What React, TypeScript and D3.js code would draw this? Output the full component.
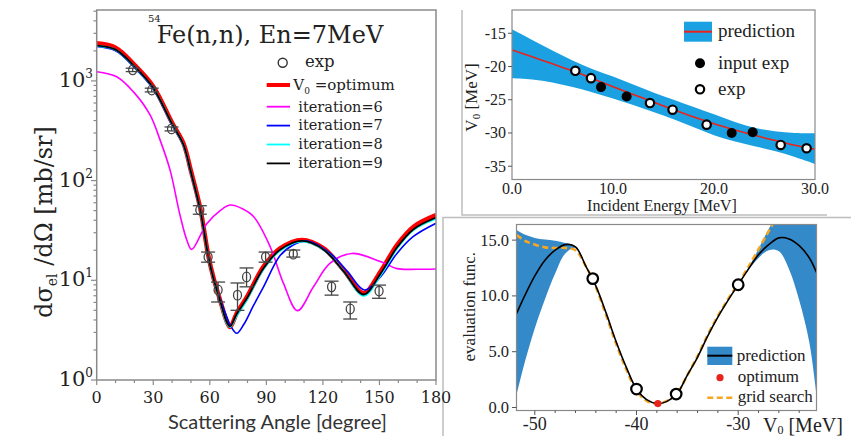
import React from 'react';
import * as d3 from 'd3';

// ---------------- Left panel: 54Fe(n,n) angular distribution ----------------
const xTicksL = [0, 30, 60, 90, 120, 150, 180];
const yDecadesL = [0, 1, 2, 3];

const redAngle = [0, 10, 20, 30, 40, 46, 50, 55, 59.3, 62, 65.5, 69, 70.8, 74.3, 79.7, 88.5, 97.3, 108.9, 120.4, 131, 141.6, 150.5, 159.3, 168.1, 180];
const redValue = [2380, 2150, 1450, 880, 380, 237, 125, 52, 17.3, 10.5, 6.3, 3.85, 3.4, 4.67, 6.8, 13.7, 20.9, 25.4, 20.9, 12.7, 7.4, 12.2, 22.6, 34.5, 45];
const blackValue = [2260, 2060, 1400, 850, 370, 230, 121, 50, 17, 10.3, 6.2, 3.8, 3.45, 4.6, 6.6, 13.2, 20.2, 24.8, 20.3, 12.3, 7.2, 11.6, 21.3, 32.5, 42.5];
const cyanValue = [2250, 2050, 1390, 845, 368, 228, 120, 49.5, 16.8, 10.2, 6.1, 3.7, 3.4, 4.4, 6.4, 12.9, 19.8, 24.5, 20.2, 12.3, 7.0, 11.2, 20.8, 32, 41.5];

const blueAngle = [0, 10, 20, 30, 40, 46, 50, 55, 59.3, 62, 65.5, 69, 71, 74.3, 78, 83, 88.5, 97.3, 104, 112, 123.9, 133, 142, 150.5, 159.3, 168, 180];
const blueValue = [2210, 2000, 1360, 830, 360, 225, 118, 49, 16.8, 10.4, 6.5, 4.3, 3.5, 2.94, 3.6, 5.5, 8.6, 17.7, 22.5, 24.8, 18.6, 12.3, 8.0, 10.8, 18.6, 27.5, 37.3];

const magAngle = [0, 10.6, 19.4, 28.3, 33.6, 38.9, 44.2, 47.8, 50.4, 58.4, 65.5, 70.8, 77, 83.2, 92, 99.1, 106.5, 115, 123.7, 135.4, 150.5, 159.3, 170, 180];
const magValue = [1237, 1100, 780, 456, 256, 128, 45, 25.4, 20.4, 37, 50, 56.9, 52.5, 43.6, 21.8, 9.3, 4.96, 8.6, 14.8, 18.6, 15.4, 13.1, 12.9, 13.0];

const expAngle = [19.1, 29.2, 39.7, 54.7, 59.1, 64.4, 74.7, 79.5, 89.6, 104.3, 124.6, 134.5, 149.8];
const expValue = [1290, 810, 330, 50.7, 17.1, 8.0, 7.1, 10.8, 17.1, 18.3, 8.6, 5.16, 7.8];
const expLow = [1240, 775, 315, 46, 15.2, 6.06, 5.0, 8.6, 15.2, 17.1, 7.1, 4.09, 6.6];
const expHigh = [1340, 845, 345, 56, 19.2, 9.6, 9.4, 13.3, 19.2, 20.1, 9.8, 6.06, 8.95];

const legendL = [
  { label: 'iteration=6', color: '#ff00ff' },
  { label: 'iteration=7', color: '#0000ff' },
  { label: 'iteration=8', color: '#00ffff' },
  { label: 'iteration=9', color: '#000000' },
];

// ---------------- Top-right panel: V0 vs incident energy ----------------
const xTicksT = [0, 10, 20, 30];
const yTicksT = [-15, -20, -25, -30, -35];
const bandE = [0, 2, 4, 6, 8, 10, 12, 14, 16, 18, 20, 22, 24, 26, 28, 30];
const bandMean = [-17.5, -18.55, -19.6, -20.65, -21.85, -23.05, -24.2, -25.35, -26.5, -27.6, -28.6, -29.5, -30.35, -31.1, -31.85, -32.45];
const bandUpper = [-14.4, -16.0, -17.6, -19.1, -20.4, -21.5, -22.7, -23.9, -25.0, -26.1, -27.2, -28.3, -29.2, -29.75, -30.0, -30.05];
const bandLower = [-21.75, -21.95, -22.4, -23.1, -23.9, -24.8, -25.8, -26.85, -27.95, -29.15, -30.35, -31.25, -32.0, -32.7, -33.6, -34.65];
const openE = [6.27, 7.82, 13.66, 15.9, 19.27, 26.6, 29.17];
const openV = [-20.65, -21.75, -25.5, -26.5, -28.75, -31.8, -32.3];
const filledE = [8.81, 11.35, 21.75, 23.83];
const filledV = [-23.1, -24.5, -30.0, -29.9];

// ---------------- Bottom-right panel: evaluation function ----------------
const xTicksB = [-50, -40, -30];
const yTicksB = [0, 5, 10, 15];
const evalV0 = [-51.8, -51, -50, -49, -48, -47, -46, -45, -44, -43, -42, -41, -40, -39, -38, -37, -36, -35, -34, -33, -32, -31, -30, -29, -28, -27, -26, -25, -24, -23, -22.3];
const evalMean = [8.4, 10.0, 11.8, 13.2, 14.1, 14.6, 14.4, 12.7, 10.9, 8.5, 5.9, 3.6, 1.65, 0.7, 0.35, 0.55, 1.25, 2.9, 4.5, 6.4, 8.1, 9.6, 11.0, 12.4, 13.7, 14.6, 15.2, 15.1, 14.5, 13.4, 12.1];
const evalUpper = [15.9, 15.5, 15.2, 15.05, 14.95, 14.75, 14.45, 12.75, 10.9, 8.5, 5.9, 3.6, 1.65, 0.7, 0.35, 0.55, 1.25, 2.9, 4.5, 6.4, 8.1, 9.6, 11.0, 12.5, 14.2, 16.0, 17.5, 18.5, 19.0, 19.5, 20.0];
const evalLower = [1.1, 4.0, 7.1, 9.7, 12.0, 13.8, 14.3, 12.65, 10.9, 8.5, 5.9, 3.6, 1.65, 0.7, 0.35, 0.55, 1.25, 2.9, 4.5, 6.4, 8.1, 9.6, 11.0, 12.3, 13.4, 14.1, 14.0, 12.4, 9.6, 5.8, 1.1];
const gridV0 = [-51.8, -51, -50, -49, -48, -47, -46, -45, -44, -43, -42, -41, -40, -39, -38, -37, -36, -35, -34, -33, -32, -31, -30, -29, -28, -27, -26];
const gridValue = [15.45, 14.95, 14.6, 14.35, 14.3, 14.3, 14.1, 12.7, 10.8, 8.3, 5.7, 3.4, 1.5, 0.6, 0.35, 0.6, 1.3, 2.9, 4.6, 6.5, 8.2, 9.7, 11.1, 12.6, 14.2, 15.8, 17.4];
const sampledV0 = [-44.3, -40.0, -36.1, -30.0];
const sampledValue = [11.55, 1.65, 1.2, 11.0];
const optimumV0 = [-37.9];
const optimumValue = [0.35];

const zip = (a: number[], b: number[]) => a.map((v, i) => [v, b[i]] as [number, number]);

const SERIF = { fontFamily: "'DejaVu Serif', 'Liberation Serif', serif" };
const TIMES = { fontFamily: "'Liberation Serif', 'Times New Roman', serif" };
const SANS = { fontFamily: "Lato, 'Open Sans', sans-serif" };

export default function App() {
  const xL = d3.scaleLinear().domain([0, 180]).range([96.7, 436]);
  const yL = d3.scaleLog().domain([1, 5140]).range([380, 10]);
  const xT = d3.scaleLinear().domain([0, 30]).range([512, 815]);
  const yT = d3.scaleLinear().domain([-37, -11.5]).range([179.5, 10]);
  const xB = d3.scaleLinear().domain([-51.8, -22.3]).range([516.5, 816.5]);
  const yB = d3.scaleLinear().domain([-0.27, 16.4]).range([410.5, 224.5]);

  const lineL = d3.line<[number, number]>().x(d => xL(d[0])).y(d => yL(d[1])).curve(d3.curveCatmullRom.alpha(0.5));
  const lineT = d3.line<[number, number]>().x(d => xT(d[0])).y(d => yT(d[1])).curve(d3.curveCatmullRom.alpha(0.5));
  const areaT = d3.area<number>().x((_, i) => xT(bandE[i])).y0((_, i) => yT(bandLower[i])).y1((_, i) => yT(bandUpper[i])).curve(d3.curveCatmullRom.alpha(0.5));
  const lineB = d3.line<[number, number]>().x(d => xB(d[0])).y(d => yB(d[1])).curve(d3.curveCatmullRom.alpha(0.5));
  const areaB = d3.area<number>().x((_, i) => xB(evalV0[i])).y0((_, i) => yB(evalLower[i])).y1((_, i) => yB(evalUpper[i])).curve(d3.curveCatmullRom.alpha(0.5));

  const frameL = '#8a8a8a';
  const minorL: number[] = [];
  for (let d = 0; d < 4; d++) for (let m = 2; m <= 9; m++) { const v = m * Math.pow(10, d); if (v < 5140) minorL.push(v); }
  const xMinorL = d3.range(0, 181, 10);
  const xMinorB = d3.range(-50, -22, 2);

  return (
    <svg width={851} height={436} style={{ position: 'absolute', left: 0, top: 0, background: '#fff' }}>
      <defs>
        <clipPath id="clipL"><rect x={96.7} y={10} width={339.3} height={370} /></clipPath>
        <clipPath id="clipT"><rect x={512} y={10} width={303} height={169.5} /></clipPath>
        <clipPath id="clipB"><rect x={516.5} y={224.5} width={300} height={186} /></clipPath>
      </defs>
      <rect x={0} y={0} width={851} height={436} fill="#fff" />

      <g stroke="#bdbdbd" strokeWidth={1.5} fill="none">
        <polyline points="462,10 462,215 827,215" />
        <polyline points="443,436 443,217.5 851,217.5" />
      </g>

      {/* ================= LEFT PANEL ================= */}
      <g>
        <g clipPath="url(#clipL)" fill="none">
          <path d={lineL(zip(redAngle, redValue)) || ''} stroke="#ff0000" strokeWidth={4.5} />
          <path d={lineL(zip(magAngle, magValue)) || ''} stroke="#ff00ff" strokeWidth={1.6} />
          <path d={lineL(zip(blueAngle, blueValue)) || ''} stroke="#0000ff" strokeWidth={1.6} />
          <path d={lineL(zip(redAngle, cyanValue)) || ''} stroke="#00ffff" strokeWidth={2} />
          <path d={lineL(zip(redAngle, blackValue)) || ''} stroke="#000000" strokeWidth={1.8} />
        </g>
        <g stroke="#444" fill="none" strokeWidth={1.3}>
          {expAngle.map((a, i) => (
            <g key={i}>
              <line x1={xL(a)} x2={xL(a)} y1={yL(expLow[i])} y2={yL(expHigh[i])} />
              <line x1={xL(a) - 7} x2={xL(a) + 7} y1={yL(expLow[i])} y2={yL(expLow[i])} />
              <line x1={xL(a) - 7} x2={xL(a) + 7} y1={yL(expHigh[i])} y2={yL(expHigh[i])} />
              <ellipse cx={xL(a)} cy={yL(expValue[i])} rx={4} ry={4.8} />
            </g>
          ))}
        </g>
        <rect x={96.7} y={10} width={339.3} height={370} fill="none" stroke={frameL} strokeWidth={1.5} />
        <g stroke={frameL} strokeWidth={1.2}>
          {xMinorL.map(v => <line key={v} x1={xL(v)} x2={xL(v)} y1={380} y2={v % 30 === 0 ? 385 : 383} />)}
          {yDecadesL.map(d => <line key={'M' + d} x1={96.7} x2={91} y1={yL(Math.pow(10, d))} y2={yL(Math.pow(10, d))} />)}
          {minorL.map(v => <line key={'m' + v} x1={96.7} x2={93.5} y1={yL(v)} y2={yL(v)} />)}
        </g>
        <g style={SERIF} fontSize={16} fill="#222" textAnchor="middle">
          {xTicksL.map(v => <text key={v} x={xL(v)} y={403} style={SERIF}>{v}</text>)}
        </g>
        <g fill="#222" textAnchor="end">
          {yDecadesL.map(d => (
            <text key={d} x={93} y={yL(Math.pow(10, d)) + 6} fontSize={21} style={SERIF}>10<tspan fontSize={12} dy={-9}>{d}</tspan></text>
          ))}
        </g>
        <text x={277.5} y={429} textAnchor="middle" style={SANS} fontSize={20} fill="#333">Scattering Angle [degree]</text>
        <text transform="translate(52,222) rotate(-90)" textAnchor="middle" style={SERIF} fontSize={24} fill="#222">
          dσ<tspan fontSize={14} dy={5}>el</tspan><tspan dy={-5}> /dΩ [mb/sr]</tspan>
        </text>
        <text x={148} y={22} style={SERIF} fontSize={10} fill="#222">54</text>
        <text x={156.7} y={43.3} style={SERIF} fontSize={24} fill="#222">Fe(n,n), En=7MeV</text>
        <circle cx={282.7} cy={62.7} r={4.5} fill="none" stroke="#333" strokeWidth={1.4} />
        <text x={305} y={67} style={SERIF} fontSize={16.5} fill="#222">exp</text>
        <line x1={266.7} x2={290} y1={85} y2={85} stroke="#ff0000" strokeWidth={4} />
        <text x={293.3} y={90} style={SERIF} fontSize={15} fill="#222">V<tspan fontSize={9} dy={4}>0</tspan><tspan dy={-4}> =optimum</tspan></text>
        {legendL.map((l, i) => (
          <g key={l.label}>
            <line x1={266.7} x2={290} y1={106.7 + i * 18.9} y2={106.7 + i * 18.9} stroke={l.color} strokeWidth={1.8} />
            <text x={298.3} y={111.5 + i * 18.9} style={SERIF} fontSize={14.5} fill="#222">{l.label}</text>
          </g>
        ))}
      </g>

      {/* ================= TOP-RIGHT PANEL ================= */}
      <g>
        <g clipPath="url(#clipT)">
          <path d={areaT(bandE) || ''} fill="#1ba1e2" />
          <path d={lineT(zip(bandE, bandMean)) || ''} fill="none" stroke="#e8231c" strokeWidth={1.6} />
        </g>
        {filledE.map((e, i) => <circle key={'f' + i} cx={xT(e)} cy={yT(filledV[i])} r={5} fill="#000" />)}
        {openE.map((e, i) => <circle key={'o' + i} cx={xT(e)} cy={yT(openV[i])} r={4.2} fill="#fff" stroke="#000" strokeWidth={2.2} />)}
        <rect x={512} y={10} width={303} height={169.5} fill="none" stroke="#8a8a8a" strokeWidth={1.2} />
        <g stroke="#555" strokeWidth={1}>
          {yTicksT.map(v => <line key={v} x1={512} x2={508} y1={yT(v)} y2={yT(v)} />)}
        </g>
        <g fontSize={16} fill="#222" textAnchor="end">
          {yTicksT.map(v => <text key={v} x={506} y={yT(v) + 5.5} style={TIMES}>{v}</text>)}
        </g>
        <g fontSize={16} fill="#222" textAnchor="middle">
          {xTicksT.map(v => <text key={v} x={xT(v)} y={194} style={TIMES}>{v.toFixed(1)}</text>)}
        </g>
        <text x={662} y={211} textAnchor="middle" style={TIMES} fontSize={16} fill="#222">Incident Energy [MeV]</text>
        <text transform="translate(477,97.5) rotate(-90)" textAnchor="middle" style={TIMES} fontSize={17} fill="#222">
          V<tspan fontSize={11} dy={3}>0</tspan><tspan dy={-3}> [MeV]</tspan>
        </text>
        <rect x={684} y={21.7} width={28} height={20} fill="#1ba1e2" />
        <line x1={684} x2={712} y1={31.7} y2={31.7} stroke="#e8231c" strokeWidth={2} />
        <text x={718} y={37} style={TIMES} fontSize={19} fill="#222">prediction</text>
        <circle cx={700} cy={63.3} r={5} fill="#000" />
        <text x={718} y={68.5} style={TIMES} fontSize={19} fill="#222">input exp</text>
        <circle cx={700} cy={89.3} r={4.2} fill="#fff" stroke="#000" strokeWidth={2.2} />
        <text x={718} y={94.5} style={TIMES} fontSize={19} fill="#222">exp</text>
      </g>

      {/* ================= BOTTOM-RIGHT PANEL ================= */}
      <g>
        <g clipPath="url(#clipB)">
          <path d={areaB(evalV0) || ''} fill="#3489c9" />
          <path d={lineB(zip(gridV0, gridValue)) || ''} fill="none" stroke="#f5a623" strokeWidth={2.6} strokeDasharray="6,3.5" />
          <path d={lineB(zip(evalV0, evalMean)) || ''} fill="none" stroke="#000" strokeWidth={1.6} />
        </g>
        {sampledV0.map((v, i) => <circle key={'s' + i} cx={xB(v)} cy={yB(sampledValue[i])} r={5.3} fill="#fff" stroke="#000" strokeWidth={2.2} />)}
        {optimumV0.map((v, i) => <circle key={'op' + i} cx={xB(v)} cy={yB(optimumValue[i])} r={3.6} fill="#e8231c" />)}
        <rect x={516.5} y={224.5} width={300} height={186} fill="none" stroke="#8a8a8a" strokeWidth={1.2} />
        <g stroke="#555" strokeWidth={1}>
          {xMinorB.map(v => <line key={v} x1={xB(v)} x2={xB(v)} y1={410.5} y2={v % 10 === 0 ? 415 : 413} />)}
          {yTicksB.map(v => <line key={'y' + v} x1={516.5} x2={512} y1={yB(v)} y2={yB(v)} />)}
        </g>
        <g fontSize={16.5} fill="#222" textAnchor="end">
          {yTicksB.map(v => <text key={v} x={509} y={yB(v) + 5.5} style={TIMES}>{v.toFixed(1)}</text>)}
        </g>
        <g fontSize={18} fill="#222" textAnchor="middle">
          {xTicksB.map(v => <text key={v} x={xB(v)} y={430} style={TIMES}>{v}</text>)}
        </g>
        <text x={763} y={432} style={TIMES} fontSize={20} fill="#222">V<tspan fontSize={12} dy={2}>0</tspan><tspan dy={-2}> [MeV]</tspan></text>
        <text transform="translate(475,306.7) rotate(-90)" textAnchor="middle" style={TIMES} fontSize={17} fill="#222">evaluation func.</text>
        <rect x={707.3} y={346.7} width={25} height={18.3} fill="#3489c9" />
        <line x1={707.3} x2={732.3} y1={355.7} y2={355.7} stroke="#000" strokeWidth={2} />
        <text x={736.7} y={361} style={TIMES} fontSize={17} fill="#222">prediction</text>
        <circle cx={720} cy={377.7} r={3.6} fill="#e8231c" />
        <text x={737.7} y={382} style={TIMES} fontSize={17} fill="#222">optimum</text>
        <line x1={707.3} x2={732.3} y1={397.7} y2={397.7} stroke="#f5a623" strokeWidth={2.6} strokeDasharray="6,3.5" />
        <text x={737.7} y={402} style={TIMES} fontSize={17} fill="#222">grid search</text>
      </g>
    </svg>
  );
}
